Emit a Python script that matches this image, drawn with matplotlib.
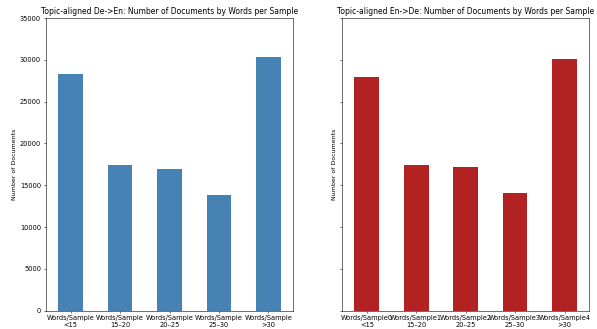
import matplotlib
matplotlib.use("Agg")
import matplotlib.pyplot as plt

# data
bins = ["<15", "15–20", "20–25", "25–30", ">30"]
de_en_counts = [28300, 17450, 16900, 13870, 30340]
en_de_counts = [28010, 17450, 17130, 14100, 30140]

left_labels = [f"Words/Sample\n{b}" for b in bins]
right_labels = [f"Words/Sample{i}\n{b}" for i, b in enumerate(bins)]

fig, (ax1, ax2) = plt.subplots(1, 2, figsize=(11.94, 6.58), dpi=50, sharey=True)

x = range(len(bins))
ax1.bar(x, de_en_counts, width=0.5, color="steelblue")
ax1.set_xticks(list(x))
ax1.set_xticklabels(left_labels, fontsize=9.5)
ax1.set_title("Topic-aligned De->En: Number of Documents by Words per Sample", fontsize=10.9)
ax1.set_ylabel("Number of Documents", fontsize=9)
ax1.set_xlim(-0.5, 4.5)
ax1.set_ylim(0, 35000)
ax1.tick_params(axis="y", labelsize=9.5)

ax2.bar(x, en_de_counts, width=0.5, color="firebrick")
ax2.set_xticks(list(x))
ax2.set_xticklabels(right_labels, fontsize=9.5)
ax2.set_title("Topic-aligned En->De: Number of Documents by Words per Sample", fontsize=10.9)
ax2.set_ylabel("Number of Documents", fontsize=9)
ax2.set_xlim(-0.5, 4.5)

plt.subplots_adjust(left=0.077, right=0.987, top=0.945, bottom=0.056, wspace=0.198)
plt.savefig("out.png")
